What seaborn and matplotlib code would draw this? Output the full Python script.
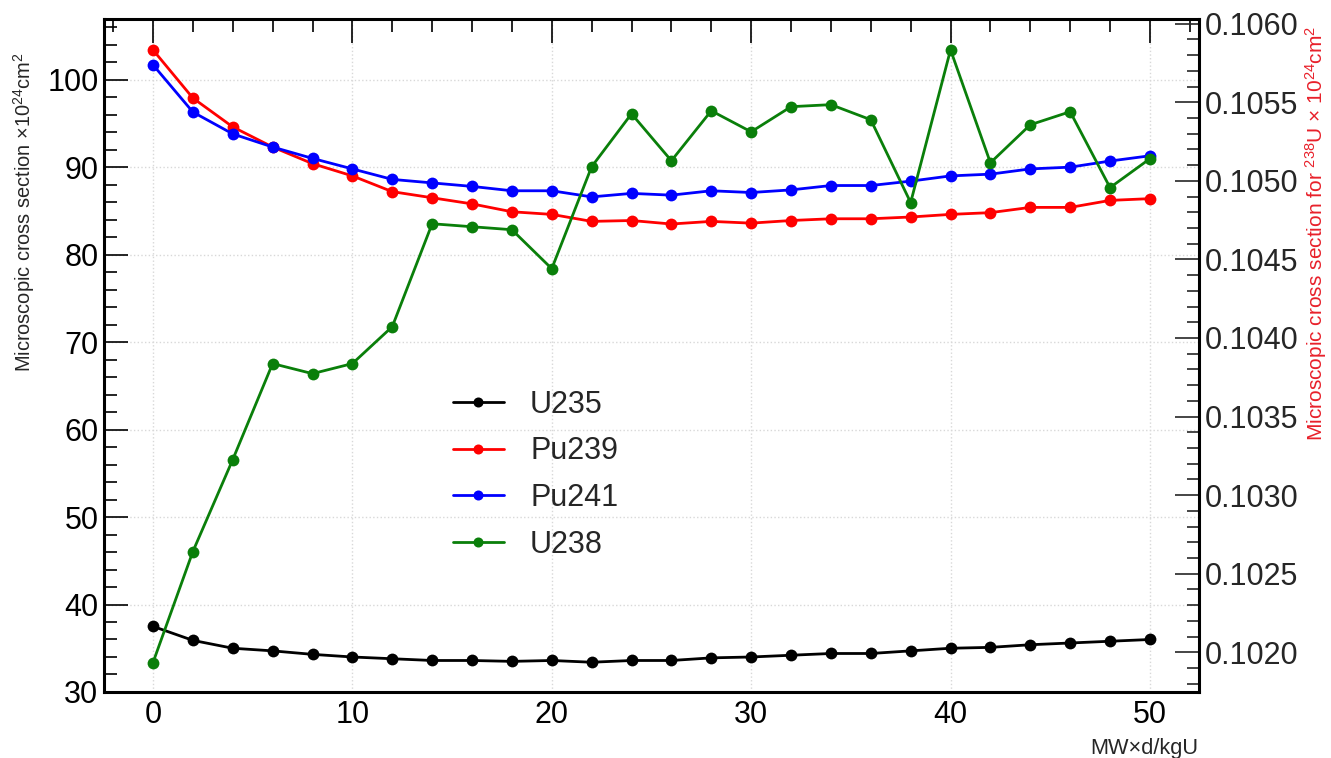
import numpy as np
import pandas as pd
import matplotlib
matplotlib.use("Agg")
import matplotlib.pyplot as plt
from matplotlib.ticker import MultipleLocator, FormatStrFormatter
import seaborn as sns

# Burnup steps (MW*d/kgU)
burnup = [0, 2, 4, 6, 8, 10, 12, 14, 16, 18, 20, 22, 24, 26, 28, 30,
          32, 34, 36, 38, 40, 42, 44, 46, 48, 50]

# Microscopic cross sections (x 10^24 cm^2)
u235 = [37.5, 35.9, 35.0, 34.7, 34.3, 34.0, 33.8, 33.6, 33.6, 33.5, 33.6, 33.4, 33.6,
        33.6, 33.9, 34.0, 34.2, 34.4, 34.4, 34.7, 35.0, 35.1, 35.4, 35.6, 35.8, 36.0]
pu239 = [103.4, 97.9, 94.6, 92.3, 90.4, 89.0, 87.2, 86.5, 85.8, 84.9, 84.6, 83.8, 83.9,
         83.5, 83.8, 83.6, 83.9, 84.1, 84.1, 84.3, 84.6, 84.8, 85.4, 85.4, 86.2, 86.4]
pu241 = [101.7, 96.3, 93.8, 92.3, 91.0, 89.8, 88.6, 88.2, 87.8, 87.3, 87.3, 86.6, 87.0,
         86.8, 87.3, 87.1, 87.4, 87.9, 87.9, 88.4, 89.0, 89.2, 89.8, 90.0, 90.7, 91.3]
u238 = [0.101934, 0.102641, 0.103226, 0.103837, 0.103773, 0.103837, 0.104072, 0.104727,
        0.104708, 0.104689, 0.104441, 0.105090, 0.105427, 0.105128, 0.105446, 0.105312,
        0.105472, 0.105485, 0.105389, 0.104862, 0.105834, 0.105115, 0.105357, 0.105440,
        0.104957, 0.105141]

sns.set_style("white")
plt.rcParams["font.family"] = ["Liberation Sans", "DejaVu Sans"]
plt.rcParams["mathtext.fontset"] = "custom"
plt.rcParams["mathtext.rm"] = "Liberation Sans"
plt.rcParams["mathtext.it"] = "Liberation Sans:italic"

fig = plt.figure(figsize=(13.31, 7.58), dpi=100)
ax = fig.add_axes([0.0781, 0.0871, 0.8227, 0.8874])
ax2 = ax.twinx()

line_kw = dict(marker="o", markersize=8.5, linewidth=2.0, markeredgewidth=0)

df = pd.DataFrame({"burnup": burnup, "U235": u235, "Pu239": pu239,
                   "Pu241": pu241, "U238": u238})

sns.lineplot(data=df, x="burnup", y="U235", ax=ax, color="black", label="U235", **line_kw)
sns.lineplot(data=df, x="burnup", y="Pu239", ax=ax, color="#ff0000", label="Pu239", **line_kw)
sns.lineplot(data=df, x="burnup", y="Pu241", ax=ax, color="#0000ff", label="Pu241", **line_kw)
sns.lineplot(data=df, x="burnup", y="U238", ax=ax2, color="#0a7f0a", label="U238", **line_kw)

ax.set_xlim(-2.46, 52.46)
ax.set_ylim(30, 106.9)
ax2.set_ylim(0.101747, 0.106028)

ax.xaxis.set_major_locator(MultipleLocator(10))
ax.xaxis.set_minor_locator(MultipleLocator(2))
ax.yaxis.set_major_locator(MultipleLocator(10))
ax.yaxis.set_minor_locator(MultipleLocator(2))
ax2.yaxis.set_major_locator(MultipleLocator(0.0005))
ax2.yaxis.set_minor_locator(MultipleLocator(0.0001))
ax2.yaxis.set_major_formatter(FormatStrFormatter("%.4f"))

ax.grid(True, which="major", color="#d8d8d8", linestyle=":", linewidth=1.0)
ax2.grid(False)

ax.tick_params(axis="both", which="both", direction="in", top=True, right=False,
               labelsize=22, colors="black", width=1.2)
ax.tick_params(axis="both", which="major", length=17)
ax.tick_params(axis="both", which="minor", length=9)
ax.tick_params(axis="x", which="major", pad=6)
ax.tick_params(axis="y", which="major", pad=4)
ax2.tick_params(axis="y", which="both", direction="in", right=True, left=False,
                labelsize=22, width=1.2)
ax2.tick_params(axis="y", which="major", length=17, pad=4)
ax2.tick_params(axis="y", which="minor", length=9)

for sp in ax2.spines.values():
    sp.set_linewidth(2.2)
    sp.set_color("black")

ax.set_xlabel("MW×d/kgU", fontsize=15.7, loc="right")
ax.xaxis.set_label_coords(0.999, -0.068)
ax.set_ylabel(r"Microscopic cross section ×10$^{24}$cm$^{2}$", fontsize=14.4)
ax.yaxis.set_label_coords(-0.061, 0.713)
ax2.set_ylabel(r"Microscopic cross section for $^{238}$U × 10$^{24}$cm$^{2}$",
               fontsize=15, color="#e8202a")
ax2.yaxis.set_label_coords(1.0955, 0.682)

# combined legend for both axes
h1, l1 = ax.get_legend_handles_labels()
h2, l2 = ax2.get_legend_handles_labels()
if ax.get_legend():
    ax.get_legend().remove()
if ax2.get_legend():
    ax2.get_legend().remove()
leg = ax2.legend(h1 + h2, l1 + l2, loc="upper left",
                 bbox_to_anchor=(0.320, 0.5224), bbox_transform=fig.transFigure,
                 frameon=False, fontsize=22, handlelength=1.64, handletextpad=0.87,
                 labelspacing=0.55, markerscale=0.85)

fig.savefig("out.png", dpi=100)
